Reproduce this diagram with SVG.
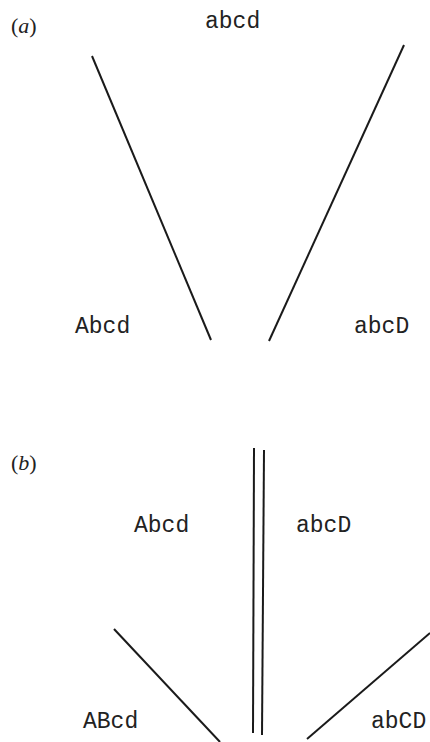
<svg xmlns="http://www.w3.org/2000/svg" width="430" height="742" viewBox="0 0 430 742">
<style>
.lbl{font-family:'Liberation Mono','Courier New',monospace;font-size:23px;fill:#222}
.pan{font-family:'Liberation Serif','Times New Roman',serif;font-size:22px;fill:#222}
.ln{stroke:#1a1a1a;stroke-width:2;fill:none}
</style>
<rect width="430" height="742" fill="#fff"/>
<text class="pan" x="11" y="33">(<tspan font-style="italic">a</tspan>)</text>
<text class="pan" x="11" y="470">(<tspan font-style="italic">b</tspan>)</text>
<g id="nodes">
<g id="a-top"><text class="lbl" x="205" y="28">abcd</text></g>
<g id="a-left"><text class="lbl" x="75" y="333">Abcd</text></g>
<g id="a-right"><text class="lbl" x="354" y="333">abcD</text></g>
<g id="b-left"><text class="lbl" x="134" y="532">Abcd</text></g>
<g id="b-right"><text class="lbl" x="296" y="532">abcD</text></g>
<g id="b-bl"><text class="lbl" x="83" y="728">ABcd</text></g>
<g id="b-br"><text class="lbl" x="371" y="728">abCD</text></g>
</g>
<g id="connectors">
<line class="ln" x1="92" y1="56" x2="211" y2="340"/>
<line class="ln" x1="404" y1="45" x2="269" y2="341"/>
<line class="ln" x1="254" y1="448" x2="253" y2="733"/>
<line class="ln" x1="264" y1="450" x2="262" y2="735"/>
<line class="ln" x1="114" y1="629" x2="220" y2="742"/>
<line class="ln" x1="430" y1="633" x2="307" y2="739"/>
</g>
</svg>
